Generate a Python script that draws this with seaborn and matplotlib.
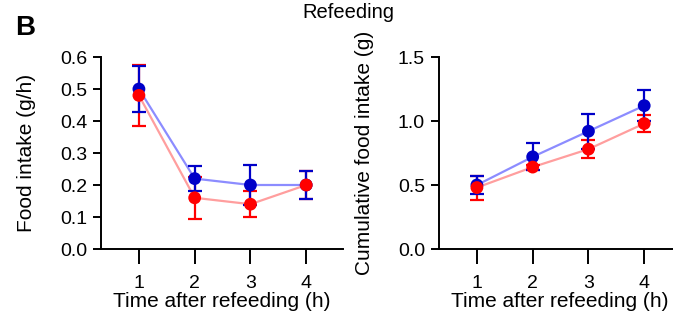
import matplotlib
matplotlib.use("Agg")
import matplotlib.pyplot as plt
import seaborn as sns
import pandas as pd
import numpy as np

sns.set_theme(style="ticks")
plt.rcParams['font.family'] = ['Liberation Sans', 'DejaVu Sans']
plt.rcParams['text.color'] = 'black'
plt.rcParams['axes.labelcolor'] = 'black'

hours = [1, 2, 3, 4]
groups = ["Control", "Treated"]

# Food intake (g/h)
rate_blue = [0.50, 0.22, 0.20, 0.20]
rate_blue_err = [0.072, 0.038, 0.063, 0.045]
rate_red = [0.48, 0.16, 0.14, 0.20]
rate_red_err = [0.096, 0.066, 0.041, 0.045]

# Cumulative food intake (g)
cum_blue = [0.50, 0.72, 0.92, 1.12]
cum_blue_err = [0.07, 0.106, 0.138, 0.12]
cum_red = [0.48, 0.64, 0.78, 0.98]
cum_red_err = [0.094, 0.02, 0.072, 0.066]

line_colors = {"Control": "#8C8CFF", "Treated": "#FF9E9E"}
mark_colors = {"Control": "#0000C8", "Treated": "#FF0000"}

fig = plt.figure(figsize=(6.73, 3.22), dpi=100)
W, H = 673, 322
ax1 = fig.add_axes([101 / W, 73 / H, 242 / W, 192 / H])
ax2 = fig.add_axes([439 / W, 73 / H, 242 / W, 192 / H])


def draw(ax, blue, blue_err, red, red_err, ylim, yticks, ylabel, ylabelpad):
    df = pd.DataFrame({
        "hour": hours * 2,
        "value": blue + red,
        "err": blue_err + red_err,
        "group": [groups[0]] * 4 + [groups[1]] * 4,
    })
    sns.lineplot(data=df, x="hour", y="value", hue="group", palette=line_colors,
                 ax=ax, legend=False, linewidth=1.6, zorder=1)
    for g in ["Treated", "Control"]:
        sub = df[df.group == g]
        ax.errorbar(sub.hour, sub.value, yerr=sub.err, fmt="none",
                    ecolor=mark_colors[g], elinewidth=1.6, capsize=5,
                    capthick=1.6, zorder=2)
    for g in ["Control", "Treated"]:
        sub = df[df.group == g]
        sns.scatterplot(data=sub, x="hour", y="value", color=mark_colors[g],
                        s=85, edgecolor="none", ax=ax, zorder=3, legend=False)
    ax.set_xlim(0.32, 4.66)
    ax.set_ylim(*ylim)
    ax.set_xticks(hours)
    ax.set_xticklabels([str(h) for h in hours])
    ax.set_yticks(yticks)
    ax.set_yticklabels([f"{t:.1f}" for t in yticks])
    for s in ["top", "right"]:
        ax.spines[s].set_visible(False)
    for s in ["left", "bottom"]:
        ax.spines[s].set_linewidth(1.4)
        ax.spines[s].set_color("black")
    ax.tick_params(axis="x", length=10.5, width=1.4, pad=8, labelsize=14, colors="black")
    ax.tick_params(axis="y", length=6, width=1.4, pad=4, labelsize=14, colors="black")
    ax.set_xlabel("Time after refeeding (h)", fontsize=15, labelpad=0.5)
    ax.set_ylabel(ylabel, fontsize=15, labelpad=ylabelpad)
    ax.set_facecolor("white")


draw(ax1, rate_blue, rate_blue_err, rate_red, rate_red_err, (0, 0.6),
     [0.0, 0.1, 0.2, 0.3, 0.4, 0.5, 0.6], "Food intake (g/h)", 17)
draw(ax2, cum_blue, cum_blue_err, cum_red, cum_red_err, (0, 1.5),
     [0.0, 0.5, 1.0, 1.5], "Cumulative food intake (g)", 17)

fig.text(348 / W, 1 - 12 / H, "Refeeding", ha="center", va="center", fontsize=14.5)
fig.text(15 / W, 1 - 28 / H, "B", ha="left", va="center", fontsize=20, fontweight="bold")

fig.savefig("out.png", dpi=100, facecolor="white")
